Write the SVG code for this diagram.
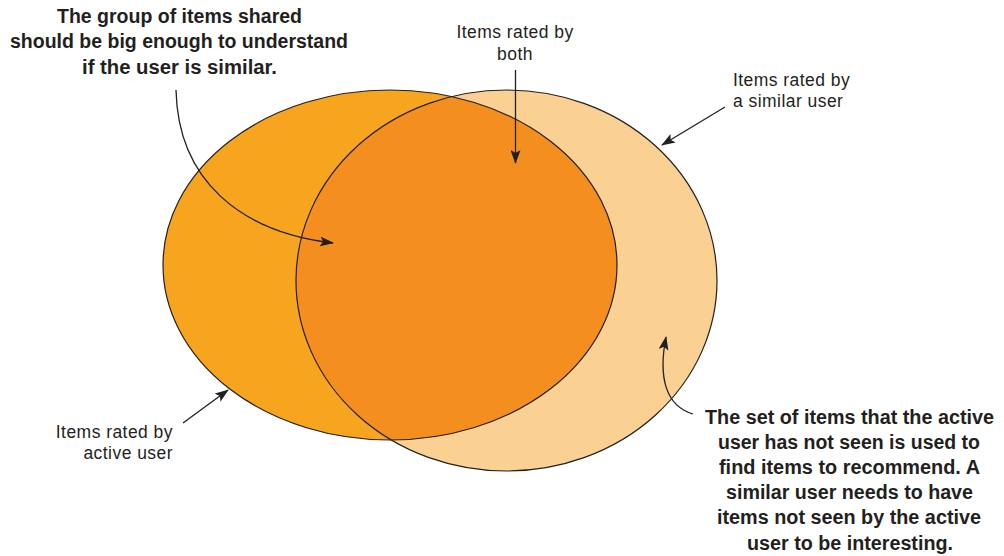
<svg xmlns="http://www.w3.org/2000/svg" width="1004" height="556" viewBox="0 0 1004 556">
<style>
.edge{fill:none;stroke:#231f20;stroke-width:1.3}
.outline{fill:none;stroke:#231f20;stroke-width:1.2}
.lbl{font-family:"Liberation Sans",Arial,sans-serif;font-size:17.5px;letter-spacing:0.45px;fill:#231f20}
.bold{font-family:"Liberation Sans",Arial,sans-serif;font-size:20px;font-weight:bold;fill:#231f20;text-anchor:middle}
</style>
<defs>
<marker id="ah" viewBox="0 0 14 10" refX="13" refY="5" markerWidth="14" markerHeight="10" markerUnits="userSpaceOnUse" orient="auto">
<path d="M0,0 L14,5 L0,10 L3,5 Z" fill="#231f20"/>
</marker>
<clipPath id="clipActive"><ellipse cx="390" cy="265" rx="227" ry="175"/></clipPath>
</defs>
<g id="active-user">
<ellipse cx="390" cy="265" rx="227" ry="175" fill="#f7a51e"/>
</g>
<g id="similar-user">
<ellipse cx="506.5" cy="280.5" rx="210.5" ry="190.5" fill="#fbd093"/>
</g>
<g id="both">
<ellipse cx="506.5" cy="280.5" rx="210.5" ry="190.5" fill="#f48f1f" clip-path="url(#clipActive)"/>
</g>
<g id="outlines">
<ellipse class="outline" cx="390" cy="265" rx="227" ry="175"/>
<ellipse class="outline" cx="506.5" cy="280.5" rx="210.5" ry="190.5"/>
</g>
<g id="connectors">
<path class="edge" d="M176,90 C178,180 240,232 333,243" marker-end="url(#ah)"/>
<path class="edge" d="M515.5,70 L515.5,163" marker-end="url(#ah)"/>
<path class="edge" d="M725,107 L662,145" marker-end="url(#ah)"/>
<path class="edge" d="M183,423 L228,390" marker-end="url(#ah)"/>
<path class="edge" d="M693,414 C666,406 658,378 666,337" marker-end="url(#ah)"/>
</g>
<g id="note-shared">
<text class="bold" x="179.5" y="23" textLength="245" lengthAdjust="spacingAndGlyphs">The group of items shared</text>
<text class="bold" x="179" y="48" textLength="338" lengthAdjust="spacingAndGlyphs">should be big enough to understand</text>
<text class="bold" x="179.5" y="74" textLength="195" lengthAdjust="spacingAndGlyphs">if the user is similar.</text>
</g>
<g id="label-both">
<text class="lbl" x="515" y="38" text-anchor="middle">Items rated by</text>
<text class="lbl" x="515" y="60" text-anchor="middle">both</text>
</g>
<g id="label-similar">
<text class="lbl" x="733" y="86">Items rated by</text>
<text class="lbl" x="733" y="107">a similar user</text>
</g>
<g id="label-active">
<text class="lbl" x="173" y="438" text-anchor="end">Items rated by</text>
<text class="lbl" x="173" y="459" text-anchor="end">active user</text>
</g>
<g id="note-unseen">
<text class="bold" x="849.5" y="424" textLength="289" lengthAdjust="spacingAndGlyphs">The set of items that the active</text>
<text class="bold" x="849" y="449" textLength="262" lengthAdjust="spacingAndGlyphs">user has not seen is used to</text>
<text class="bold" x="849.5" y="474" textLength="261" lengthAdjust="spacingAndGlyphs">find items to recommend. A</text>
<text class="bold" x="849.5" y="499" textLength="247" lengthAdjust="spacingAndGlyphs">similar user needs to have</text>
<text class="bold" x="849" y="524" textLength="264" lengthAdjust="spacingAndGlyphs">items not seen by the active</text>
<text class="bold" x="850" y="550" textLength="206" lengthAdjust="spacingAndGlyphs">user to be interesting.</text>
</g>
</svg>
